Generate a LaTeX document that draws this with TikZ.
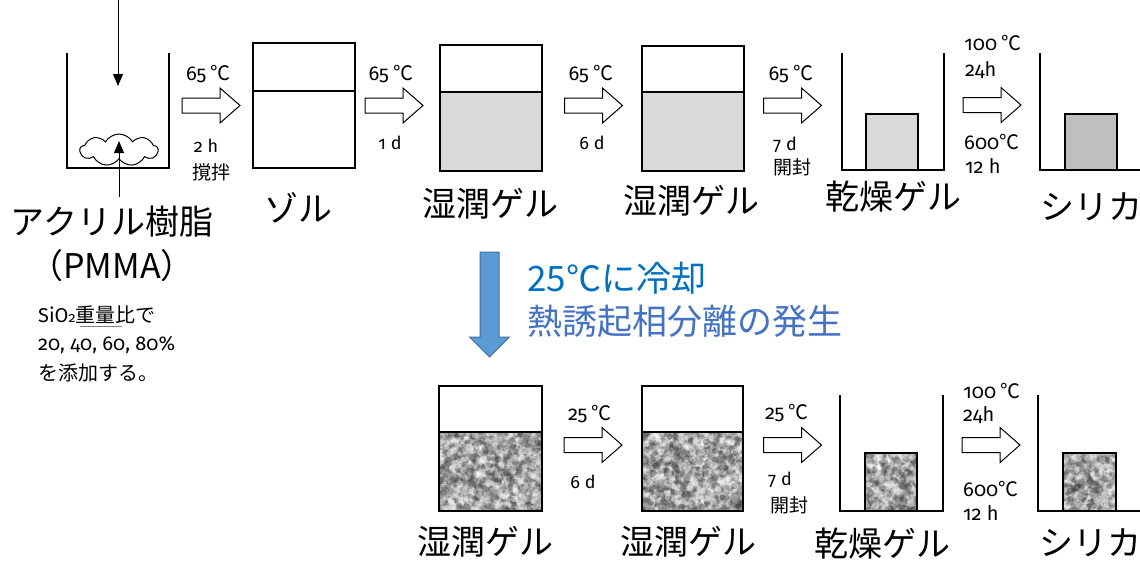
\documentclass[tikz,border=0pt]{standalone}
\usepackage{fontspec}
\setmainfont{Noto Sans CJK JP}
\newfontfamily\lat[Numbers=OldStyle]{Fira Sans}
\usetikzlibrary{shapes.symbols,arrows.meta,backgrounds}
\definecolor{gelA}{HTML}{D9D9D9}
\definecolor{gelB}{HTML}{BFBFBF}
\definecolor{txtA}{HTML}{0070C0}
\definecolor{txtB}{HTML}{4472C4}
\definecolor{arrF}{HTML}{5B9BD5}
\definecolor{arrD}{HTML}{41719C}
\newcommand\mottle[5]{%
  \begin{scope}
    \clip (#1,#2) rectangle (#3,#4);
    \fill[black!38] (#1,#2) rectangle (#3,#4);
    \foreach \k in {1,...,#5}{%
      \pgfmathsetmacro\px{#1+rnd*(#3-#1)}%
      \pgfmathsetmacro\py{#2+rnd*(#4-#2)}%
      \pgfmathsetmacro\rr{1.3+rnd*2.4}%
      \fill[black!75,opacity=.3] (\px,\py) circle[radius=\rr pt];
      \pgfmathsetmacro\qx{#1+rnd*(#3-#1)}%
      \pgfmathsetmacro\qy{#2+rnd*(#4-#2)}%
      \pgfmathsetmacro\ss{1.3+rnd*2.6}%
      \fill[white,opacity=.33] (\qx,\qy) circle[radius=\ss pt];
    }%
  \end{scope}}
\newcommand\blockarr[3]{%
  \coordinate (#1) at (#2,#3);
  \draw[line width=1pt, fill=white] ([shift={(-29,-7.5)}]#1) -- ++(38,0) -- ++(0,-10)
    -- ++(20,17.5) -- ++(-20,17.5) -- ++(0,-10) -- ++(-38,0) -- cycle;}
\begin{document}
\begin{tikzpicture}[x=1pt,y=-1pt,
  wall/.style={line width=1.3pt},
  box/.style={draw, line width=1.3pt, inner sep=0pt, outer sep=0pt},
  thinarr/.style={line width=0.9pt, -{Triangle[length=12pt,width=10pt]}},
  sm/.style={font=\fontsize{20}{22}\selectfont, inner sep=0pt},
  sn/.style={font=\fontsize{18}{20}\selectfont, inner sep=0pt},
  smc/.style={font=\fontsize{19}{21}\selectfont, inner sep=0pt},
  big/.style={font=\fontsize{34}{38}\selectfont, inner sep=0pt},
  note/.style={font=\fontsize{20}{22}\selectfont, inner sep=0pt, anchor=west},
  bluet/.style={font=\fontsize{35}{38}\selectfont, inner sep=0pt, anchor=west}]
\useasboundingbox (0,0) rectangle (1140,562);

% ---------- top row: start beaker ----------
\draw[wall] (67,53) |- (169,168) -- (169,53);
\node[cloud, draw, line width=1pt, cloud puffs=9, cloud puff arc=120, aspect=2.5,
  minimum width=78pt, minimum height=32pt, inner sep=0pt] (cloud) at (119,150) {};
\coordinate (inA) at (118,-1);
\coordinate (inB) at (118,86);
\draw[thinarr] (inA) -- (inB);
\coordinate (upA) at (119,197);
\coordinate (upB) at (119,141);
\draw[thinarr] (upA) -- (upB);

% ---------- top row boxes ----------
\node[box, minimum width=102pt, minimum height=125pt] (sol) at (304,105.5) {};
\draw[wall] (sol.west |- 0,91) -- (sol.east |- 0,91);
\node[box, minimum width=102pt, minimum height=126pt] (wg1) at (491,108) {};
\draw[wall] (wg1.west |- 0,92) -- (wg1.east |- 0,92);
\node[box, minimum width=102pt, minimum height=125pt] (wg2) at (693,108.5) {};
\draw[wall] (wg2.west |- 0,92) -- (wg2.east |- 0,92);
\draw[wall] (842,53) |- (944,170) -- (944,53);
\node[box, fill=gelA, minimum width=52pt, minimum height=56pt, anchor=south] (dg1) at (892,170) {};
\draw[wall] (1040,53) |- (1150,170);
\node[box, fill=gelB, minimum width=52pt, minimum height=56pt, anchor=south] (si1) at (1091,170) {};

% ---------- top row arrows ----------
\blockarr{a1}{211}{105.5}
\blockarr{a2}{394}{105.5}
\blockarr{a3}{593.5}{105.5}
\blockarr{a4}{792.5}{105.5}
\blockarr{a5}{992}{105}

% ---------- top row small labels ----------
\node[sm] (t1) at (208.5,74) {{\lat 65} ℃};
\node[sn] (t2) at (206,146) {\lat 2 h};
\node[smc] (t3) at (211,172) {撹拌};
\node[sm] (t4) at (391,74) {{\lat 65} ℃};
\node[sn] (t5) at (390,143) {\lat 1 d};
\node[sm] (t6) at (591,74) {{\lat 65} ℃};
\node[sn] (t7) at (592,143) {\lat 6 d};
\node[sm] (t8) at (791,74) {{\lat 65} ℃};
\node[sn] (t9) at (785,145) {\lat 7 d};
\node[smc] (t10) at (792,167) {開封};
\node[sm] (t11) at (993,43) {{\lat 100} ℃};
\node[sm, anchor=west] (t12) at (965,70) {\lat 24h};
\node[sm, anchor=west] (t13) at (964,142) {{\lat 600}℃};
\node[sm, anchor=west] (t14) at (965,166) {\lat 12 h};

% ---------- top row big labels ----------
\node[big] (L1) at (298,208) {ゾル};
\node[big] (L2) at (490,204) {湿潤ゲル};
\node[big] (L3) at (691,201) {湿潤ゲル};
\node[big] (L4) at (893,197) {乾燥ゲル};
\node[big] (L5) at (1091,207) {シリカ};

% ---------- left texts ----------
\node[big] (A1) at (112,222) {アクリル樹脂};
\node[big] (A2) at (112,266) {（PMMA）};
\node[note] (S1) at (38,315) {{\lat SiO{\fontsize{14}{14}\selectfont 2}}重量比で};
\node[note] (S2) at (38,345) {\lat 20, 40, 60, 80\%};
\node[note] (S3) at (38,373) {を添加する。};
\draw[gray, line width=0.8pt] (80,326) -- (122,326);

% ---------- cooling ----------
\coordinate (cool) at (489.5,304.5);
\draw[draw=arrD, fill=arrF, line width=1pt] ([shift={(-9.5,-52.5)}]cool) -- ++(19,0)
  -- ++(0,85) -- ++(10.5,0) -- ++(-20,20) -- ++(-20,-20) -- ++(10.5,0) -- cycle;
\node[bluet, text=txtA] (B1) at (527,278) {25℃に冷却};
\node[bluet, text=txtB] (B2) at (527,321) {熱誘起相分離の発生};

% ---------- bottom row ----------
\node[box, minimum width=103pt, minimum height=125pt] (wg3) at (490.5,448.5) {};
\draw[wall] (wg3.west |- 0,432) -- (wg3.east |- 0,432);
\node[box, minimum width=101pt, minimum height=125pt] (wg4) at (692.5,448.5) {};
\draw[wall] (wg4.west |- 0,432) -- (wg4.east |- 0,432);
\draw[wall] (840,395) |- (943,511) -- (943,395);
\node[box, minimum width=52pt, minimum height=58pt, anchor=south] (dg2) at (891,511) {};
\draw[wall] (1038,395) |- (1150,511);
\node[box, minimum width=53pt, minimum height=58pt, anchor=south] (si2) at (1089.5,511) {};

\blockarr{b1}{593}{445}
\blockarr{b2}{792.5}{445}
\blockarr{b3}{991}{445}

\node[sm] (u1) at (590,414) {{\lat 25} ℃};
\node[sn] (u2) at (583,482) {\lat 6 d};
\node[sm] (u3) at (787,413) {{\lat 25} ℃};
\node[sn] (u4) at (780,480) {\lat 7 d};
\node[smc] (u5) at (789,505) {開封};
\node[sm] (u6) at (992,391) {{\lat 100} ℃};
\node[sm, anchor=west] (u7) at (963,415) {\lat 24h};
\node[sm, anchor=west] (u8) at (963,489) {{\lat 600}℃};
\node[sm, anchor=west] (u9) at (963,513) {\lat 12 h};

\node[big] (M1) at (485,542) {湿潤ゲル};
\node[big] (M2) at (688,542) {湿潤ゲル};
\node[big] (M3) at (882,544) {乾燥ゲル};
\node[big] (M4) at (1090,543) {シリカ};

% ---------- fills behind ----------
\begin{scope}[on background layer]
  \fill[white] (0,0) rectangle (1140,562);
  \fill[gelA] (wg1.south west) rectangle (wg1.east |- 0,92);
  \fill[gelA] (wg2.south west) rectangle (wg2.east |- 0,92);
  \pgfmathsetseed{11}
  \mottle{439}{432}{542}{511}{520}
  \mottle{642}{432}{743}{511}{520}
  \mottle{865}{453}{917}{511}{200}
  \mottle{1063}{453}{1116}{511}{200}
\end{scope}
\end{tikzpicture}
\end{document}
